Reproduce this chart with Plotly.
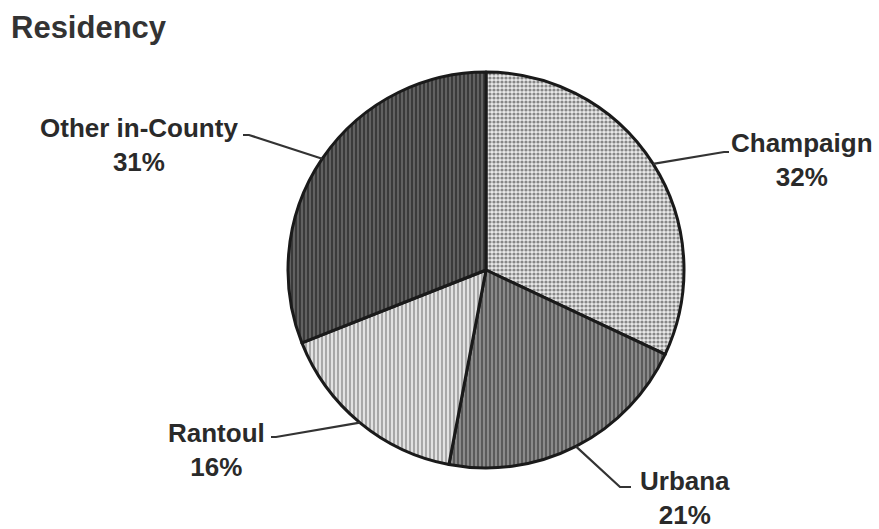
import math
import plotly.graph_objects as go

# ---- data ----
labels = ["Champaign", "Urbana", "Rantoul", "Other in-County"]
values = [32, 21, 16, 31]
pct_text = ["32%", "21%", "16%", "31%"]

W, H = 879, 529
CX, CY, R = 486, 270, 198  # pie center / radius in pixels

def px(x):
    return x / W

def py(y):
    return 1 - y / H

# pattern styles per slice
pat_shape = [".", "|", "|", "|"]
pat_bg = ["#e8e8e8", "#8a8a8a", "#e2e2e2", "#3a3a3a"]
pat_fg = ["#262626", "#1e1e1e", "#3a3a3a", "#d8d8d8"]
pat_size = [4, 4, 4, 4]
pat_sol = [0.5, 0.45, 0.35, 0.25]

fig = go.Figure(go.Pie(
    labels=labels,
    values=values,
    sort=False,
    direction="clockwise",
    rotation=0,
    textinfo="none",
    hoverinfo="label+percent",
    showlegend=False,
    domain=dict(x=[px(CX - R), px(CX + R)], y=[py(CY + R), py(CY - R)]),
    marker=dict(
        colors=pat_bg,
        line=dict(color="#1a1a1a", width=3),
        pattern=dict(shape=pat_shape, bgcolor=pat_bg, fgcolor=pat_fg,
                     size=pat_size, solidity=pat_sol, fillmode="overlay"),
    ),
))

# label layout (pixel positions of elbow, line end, text center)
elbow = [(724, 152), (620, 487), (276, 437), (249, 135)]
lend = [(729, 152), (631, 487), (271, 437), (243, 135)]
text_pos = [(802, 160), (685, 498), (216, 450), (139, 145)]

shapes = []
annotations = []
total = sum(values)
cum = 0
for i, v in enumerate(values):
    mid = (cum + v / 2) / total * 2 * math.pi
    cum += v
    ex = CX + R * math.sin(mid)
    ey = CY - R * math.cos(mid)
    path = "M {} {} L {} {} L {} {}".format(
        px(ex), py(ey), px(elbow[i][0]), py(elbow[i][1]),
        px(lend[i][0]), py(lend[i][1]))
    shapes.append(dict(type="path", xref="paper", yref="paper", path=path,
                       line=dict(color="#333333", width=2.2)))
    annotations.append(dict(
        x=px(text_pos[i][0]), y=py(text_pos[i][1]), xref="paper", yref="paper",
        text="<b>{}<br>{}</b>".format(labels[i], pct_text[i]),
        showarrow=False, xanchor="center", yanchor="middle", align="center",
        font=dict(family="Liberation Sans, Arial", size=26, color="#2a2a2a"),
    ))

annotations.append(dict(
    x=px(9), y=py(27), xref="paper", yref="paper", text="<b>Residency</b>",
    showarrow=False, xanchor="left", yanchor="middle",
    font=dict(family="Liberation Sans, Arial", size=31, color="#333333"),
))

fig.update_layout(
    width=W, height=H,
    margin=dict(l=0, r=0, t=0, b=0),
    paper_bgcolor="white", plot_bgcolor="white",
    shapes=shapes, annotations=annotations,
)

fig.write_html("out.html", config={"displayModeBar": False},
               post_script="document.body.style.margin='0';document.body.style.overflow='hidden';")
